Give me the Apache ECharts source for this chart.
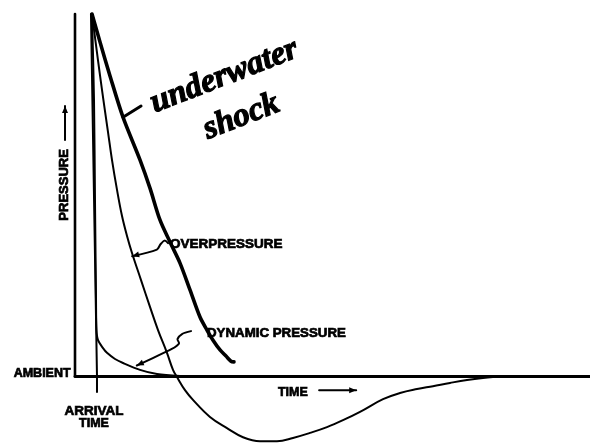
<!DOCTYPE html>
<html>
<head>
<meta charset="utf-8">
<script src="https://cdn.jsdelivr.net/npm/echarts@6/dist/echarts.min.js"></script>
<style>
  html, body { margin: 0; padding: 0; background: #fff; }
  #chart { width: 590px; height: 443px; }
</style>
</head>
<body>
<div id="chart"></div>
<script>
// Time runs 0..100 across the plot; pressure is 100 at the peak, 0 at ambient.
const shock = [
  [3.3, 100], [4.85, 92.3], [6.8, 82.9], [9.32, 71.5], [12.62, 59.7], [14.56, 51.9],
  [16.5, 43.1], [18.45, 37.0], [20.39, 31.2], [22.33, 23.8], [24.27, 16.3], [25.63, 12.7],
  [26.8, 9.9], [28.16, 7.2], [29.32, 5.5], [30.29, 4.1], [30.87, 3.9]
];
const overpressure = [
  [3.3, 100], [4.08, 91.4], [4.85, 83.1], [5.63, 75.1], [6.41, 67.4], [7.18, 59.7],
  [8.16, 51.4], [9.13, 44.2], [10.1, 38.7], [11.07, 34.0], [12.82, 26.5], [14.56, 19.1],
  [16.12, 12.7], [17.86, 6.4], [19.03, 1.7], [19.81, -0.3], [21.36, -3.9], [22.91, -6.6],
  [26.21, -11.3], [29.51, -14.4], [32.62, -16.9], [35.92, -18.0], [39.22, -18.0],
  [42.33, -17.1], [45.63, -15.7], [48.93, -14.1], [52.04, -12.2], [55.34, -9.9],
  [59.81, -6.4], [63.11, -4.7], [66.41, -3.6], [69.51, -2.8], [72.82, -1.9],
  [76.12, -1.1], [79.22, -0.55], [83.5, 0]
];
const dynamicPressure = [
  [3.3, 100], [3.69, 76.2], [3.88, 48.6], [4.08, 21.0], [4.17, 12.7], [4.47, 9.9],
  [5.44, 7.7], [6.21, 6.4], [7.77, 4.7], [9.32, 3.6], [12.62, 1.7], [15.92, 0.55], [20.39, 0]
];
const arrivalTime = [[3.1, 100], [4.27, 0], [4.27, -4.4]];
const pressureAxis = [[0, 0], [0, 100]];

// Annotation anchors, in the same time / pressure units
const labelPressure = [-2.14, 52.8];
const arrowPressure = [[-1.94, 65.2], [-1.94, 74.6]];
const labelAmbient = [-0.85, 0.8];
const labelArrival = [3.69, -9.7];
const labelArrivalTime = [3.69, -13.0];
const labelTime = [39.4, -4.7];
const arrowTime = [[47.4, -3.9], [54.6, -3.9]];
const labelOver = [18.45, 36.5];
const leaderOver = [[18.06, 36.7], [17.4, 37.4], [16.6, 36.4], [15.9, 34.9], [11.1, 33.1]];
const labelDynamic = [25.63, 11.9];
const leaderDynamic = [[22.52, 12.4], [20.78, 11.6], [19.9, 10.2], [20.2, 9.0], [18.8, 7.5], [12.0, 2.9]];
const labelWater = [29.0, 82.8];
const labelShock = [32.3, 71.6];
const leaderShock = [[9.32, 71.5], [12.82, 74.6]];

const chart = echarts.init(document.getElementById('chart'), null, { renderer: 'canvas' });

function curve(name, data, width, smooth) {
  return {
    name, type: 'line', data, smooth, symbol: 'none', clip: false,
    lineStyle: { color: '#000', width, cap: 'round', join: 'round' },
    animation: false, silent: true
  };
}

chart.setOption({
  backgroundColor: '#fff',
  animation: false,
  grid: { left: 75, right: 0, top: 14, bottom: 0 },
  xAxis: {
    type: 'value', min: 0, max: 100,
    axisLine: { show: true, onZero: true, lineStyle: { color: '#000', width: 3 } },
    axisTick: { show: false }, axisLabel: { show: false }, splitLine: { show: false }
  },
  yAxis: {
    type: 'value', min: -18.5, max: 100,
    axisLine: { show: false }, axisTick: { show: false },
    axisLabel: { show: false }, splitLine: { show: false }
  },
  series: [
    curve('pressure axis', pressureAxis, 2.6, false),
    curve('arrival time', arrivalTime, 2, false),
    curve('dynamic pressure', dynamicPressure, 2, 0.3),
    curve('overpressure', overpressure, 2, 0.4),
    curve('underwater shock', shock, 3.6, 0.3)
  ]
});

const px = p => chart.convertToPixel({ gridIndex: 0 }, p);
const ink = '#000';
const capsFont = s => 'bold ' + s + 'px "Liberation Sans", Arial, sans-serif';
const handFont = 'italic bold 33px "Liberation Serif", "DejaVu Serif", serif';

function text(str, at, size, opts = {}) {
  const [x, y] = px(at);
  return {
    type: 'text', x, y, rotation: opts.rotation || 0,
    style: {
      text: str, font: opts.font || capsFont(size), fill: ink,
      stroke: ink, lineWidth: opts.weight || 0.7,
      align: opts.align || 'center', verticalAlign: 'middle'
    }
  };
}

function polyline(points, width) {
  return {
    type: 'polyline',
    shape: { points: points.map(px), smooth: 0.3 },
    style: { stroke: ink, lineWidth: width, fill: null, lineCap: 'round', lineJoin: 'round' }
  };
}

function arrowHead(from, to, len, half) {
  const a = px(from), b = px(to);
  const dx = b[0] - a[0], dy = b[1] - a[1];
  const d = Math.hypot(dx, dy) || 1;
  const ux = dx / d, uy = dy / d;
  const bx = b[0] - ux * len, by = b[1] - uy * len;
  return {
    type: 'polygon',
    shape: { points: [b, [bx - uy * half, by + ux * half], [bx + uy * half, by - ux * half]] },
    style: { fill: ink }
  };
}

const n = leaderOver.length, m = leaderDynamic.length;
chart.setOption({
  graphic: [
    text('PRESSURE', labelPressure, 13, { rotation: Math.PI / 2 }),
    polyline(arrowPressure, 2),
    arrowHead(arrowPressure[0], arrowPressure[1], 7, 3),
    text('AMBIENT', labelAmbient, 12.5, { align: 'right' }),
    text('ARRIVAL', labelArrival, 13.5),
    text('TIME', labelArrivalTime, 12.5),
    text('TIME', labelTime, 12.5, { align: 'left' }),
    polyline(arrowTime, 2),
    arrowHead(arrowTime[0], arrowTime[1], 7, 3),
    text('OVERPRESSURE', labelOver, 13.5, { align: 'left' }),
    polyline(leaderOver, 2),
    arrowHead(leaderOver[n - 2], leaderOver[n - 1], 7, 3),
    text('DYNAMIC PRESSURE', labelDynamic, 13.3, { align: 'left' }),
    polyline(leaderDynamic, 2),
    arrowHead(leaderDynamic[m - 2], leaderDynamic[m - 1], 7, 3),
    polyline(leaderShock, 3),
    text('underwater', labelWater, 0, { rotation: 0.37, font: handFont, weight: 1.2 }),
    text('shock', labelShock, 0, { rotation: 0.37, font: handFont, weight: 1.2 })
  ]
});
</script>
</body>
</html>
